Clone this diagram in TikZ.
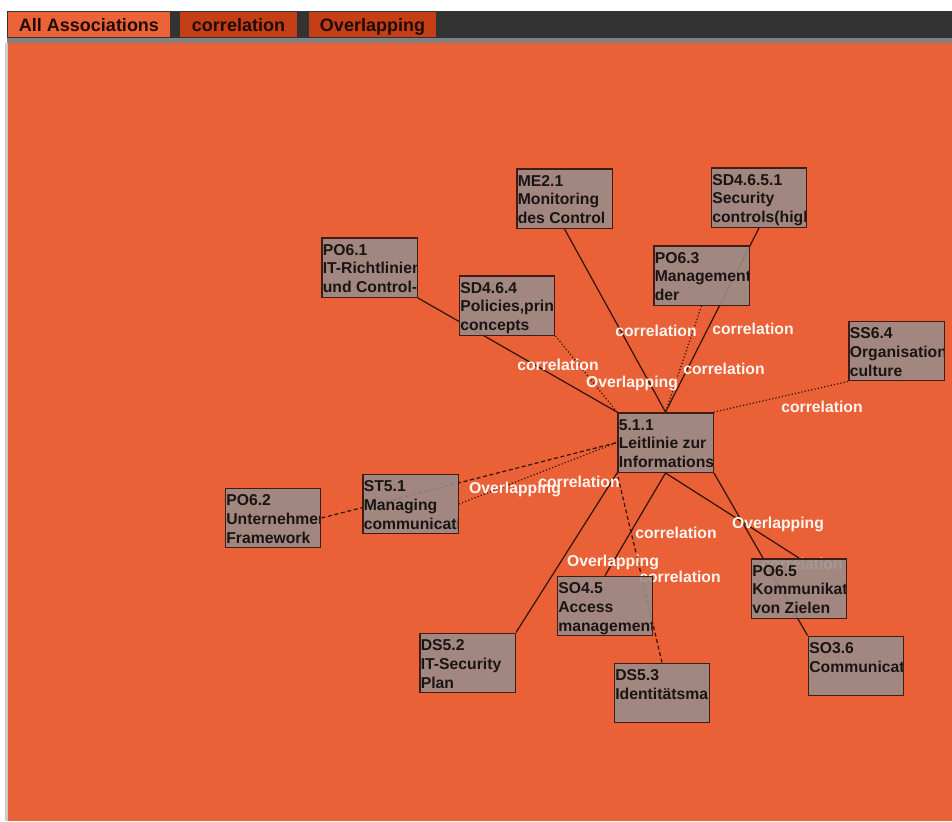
\documentclass[tikz,border=0pt]{standalone}
\usepackage{fontspec}
\setmainfont{Liberation Sans}
\definecolor{canvas}{RGB}{234,96,55}
\definecolor{barcol}{RGB}{51,51,51}
\definecolor{stripcol}{RGB}{128,128,128}
\definecolor{tabon}{RGB}{236,98,57}
\definecolor{taboff}{RGB}{198,62,22}
\definecolor{tabtext}{RGB}{30,12,6}
\definecolor{boxgray}{RGB}{151,141,139}
\definecolor{boxline}{RGB}{64,28,20}
\definecolor{boxtext}{RGB}{26,20,18}
\definecolor{linkcol}{RGB}{45,20,12}
\definecolor{lblcol}{RGB}{255,246,240}
\pgfdeclarelayer{base}
\pgfdeclarelayer{links}
\pgfsetlayers{base,links,main}
\begin{document}
\begin{tikzpicture}[x=0.75pt,y=-0.75pt,
    tab/.style={minimum height=18.75pt, inner sep=0pt, text height=12pt, text depth=2pt,
      text=tabtext, font=\bfseries\fontsize{13.5}{16}\selectfont},
    solidlink/.style={draw=linkcol, line width=0.9pt},
    dotlink/.style={solidlink, dash pattern=on 0.9pt off 1.6pt},
    dashlink/.style={solidlink, dash pattern=on 3pt off 2pt},
    lbl/.style={text=lblcol, inner sep=0pt, font=\bfseries\fontsize{11.8}{14}\selectfont},
    item/.style={draw=boxline, line width=1.1pt, fill=boxgray, fill opacity=.88,
      minimum width=71.6pt, minimum height=44.6pt, inner sep=0pt,
      path picture={\node[anchor=north west, inner sep=0pt, outer sep=0pt,
          minimum width=0pt, minimum height=0pt, align=left,
          fill opacity=1, text opacity=1, text=boxtext,
          font=\bfseries\fontsize{11.8}{14}\selectfont]
          at ([xshift=0.8pt,yshift=-4.9pt]path picture bounding box.north west) {#1};}}]
  \useasboundingbox (0,0) rectangle (952,821);

  % boxes
  \node[item={ME2.1\\Monitoring\\des Control}] (me21) at (564.5,198.5) {};
  \node[item={SD4.6.5.1\\Security\\controls(high}] (sd4651) at (759,197.5) {};
  \node[item={PO6.1\\IT-Richtlinien\\und Control-}] (po61) at (369.5,267.5) {};
  \node[item={SD4.6.4\\Policies,princ\\concepts}] (sd464) at (507,305.5) {};
  \node[item={PO6.3\\Management\\der}] (po63) at (701.5,275.5) {};
  \node[item={SS6.4\\Organisation\\culture}] (ss64) at (896.5,351) {};
  \node[item={5.1.1\\Leitlinie zur\\Informations}] (c511) at (665.5,442.5) {};
  \node[item={ST5.1\\Managing\\communicatio}] (st51) at (410.5,504) {};
  \node[item={PO6.2\\Unternehmen\\Framework}] (po62) at (273,518) {};
  \node[item={PO6.5\\Kommunikati\\von Zielen}] (po65) at (799,588.5) {};
  \node[item={SO4.5\\Access\\management}] (so45) at (605,606) {};
  \node[item={DS5.2\\IT-Security\\Plan}] (ds52) at (467.5,663) {};
  \node[item={SO3.6\\Communicati}] (so36) at (856,666) {};
  \node[item={DS5.3\\Identitätsman}] (ds53) at (662,693) {};

  \begin{pgfonlayer}{links}
    % links
    \draw[solidlink] (me21.south) -- (c511.north);
    \draw[solidlink] (sd4651.south) -- (c511.north);
    \draw[dotlink] (po63.south) -- (c511.north);
    \draw[solidlink] (po61.south east) -- (c511.north west);
    \draw[dotlink] (sd464.south east) -- (c511.north west);
    \draw[dotlink] (ss64.south west) -- (c511.north east);
    \draw[dashlink] (po62.east) -- (c511.west);
    \draw[dotlink] (st51.east) -- (c511.west);
    \draw[solidlink] (ds52.north east) -- (c511.south west);
    \draw[dashlink] (ds53.north) -- (c511.south west);
    \draw[solidlink] (so45.north) -- (c511.south);
    \draw[solidlink] (po65.north) -- (c511.south);
    \draw[solidlink] (so36.north west) -- (c511.south east);

    % link labels
    \node[lbl] (l1) at (656,331) {correlation};
    \node[lbl] (l2) at (753,329) {correlation};
    \node[lbl] (l3) at (724,369) {correlation};
    \node[lbl] (l4) at (632,383) {Overlapping};
    \node[lbl] (l5) at (558,365) {correlation};
    \node[lbl] (l6) at (822,407) {correlation};
    \node[lbl] (l7) at (515,489) {Overlapping};
    \node[lbl] (l8) at (579,482) {correlation};
    \node[lbl] (l9) at (676,533) {correlation};
    \node[lbl] (l10) at (778,524) {Overlapping};
    \node[lbl] (l11) at (613,562) {Overlapping};
    \node[lbl] (l12) at (680,577) {correlation};
    \node[lbl] (l13) at (802,564) {correlation};
  \end{pgfonlayer}

  \begin{pgfonlayer}{base}
    % tab bar and canvas
    \fill[white] (0,0) rectangle (952,821);
    \fill[barcol] (7,11) rectangle (952,38);
    \fill[stripcol] (7,38) rectangle (952,43);
    \fill[canvas] (8,43) rectangle (952,821);
    \fill[stripcol!40] (5,43) rectangle (8,821);
    \node[tab, fill=tabon, minimum width=121.5pt] (taball) at (89,24.5) {All Associations};
    \node[tab, fill=taboff, minimum width=87.75pt] (tabcor) at (238.5,24.5) {correlation};
    \node[tab, fill=taboff, minimum width=95.25pt] (tabovl) at (372.5,24.5) {Overlapping};
  \end{pgfonlayer}
\end{tikzpicture}
\end{document}
